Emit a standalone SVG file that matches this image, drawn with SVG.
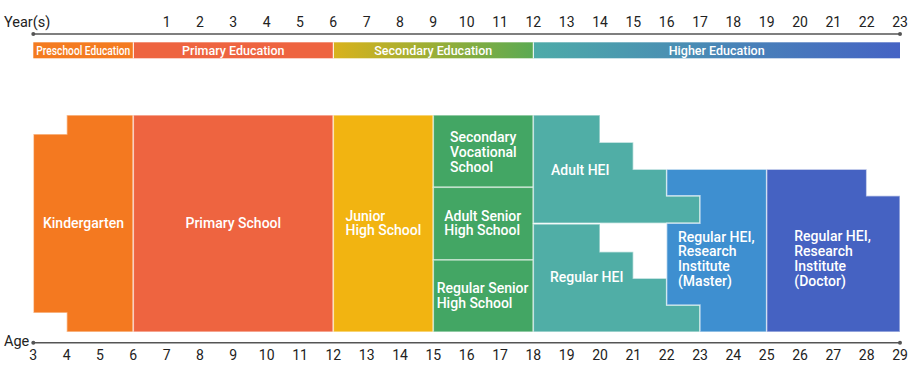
<svg xmlns="http://www.w3.org/2000/svg" width="910" height="374" viewBox="0 0 910 374">
<defs>
<linearGradient id="gSec" x1="0" y1="0" x2="1" y2="0"><stop offset="0" stop-color="#D9B21C"/><stop offset="1" stop-color="#5BAA52"/></linearGradient>
<linearGradient id="gHigh" x1="0" y1="0" x2="1" y2="0"><stop offset="0" stop-color="#4DABA8"/><stop offset="1" stop-color="#4563C4"/></linearGradient>
<style>
.ax{font-family:Roboto,"Liberation Sans",sans-serif;font-size:14px;fill:#222;text-anchor:middle}
.axl{font-family:Roboto,"Liberation Sans",sans-serif;font-size:14.5px;fill:#222}
.bt{font-family:Roboto,"Liberation Sans",sans-serif;font-size:12.5px;font-weight:500;fill:#fff;text-anchor:middle}
.lb{font-family:Roboto,"Liberation Sans",sans-serif;font-size:14px;font-weight:500;fill:#fff}
.c{text-anchor:middle}
.blk{stroke:#fff;stroke-opacity:0.55;stroke-width:1.5}
.line{stroke:#555;stroke-width:1.5}
</style>
</defs>
<g id="year-axis">
<text class="axl" x="4" y="27">Year(s)</text>
<line class="line" x1="33.3" y1="34" x2="900" y2="34"/>
<circle cx="33.3" cy="34" r="2" fill="#555"/>
<circle cx="900" cy="34" r="2" fill="#555"/>
<text class="ax" x="166.7" y="27">1</text>
<text class="ax" x="200" y="27">2</text>
<text class="ax" x="233.3" y="27">3</text>
<text class="ax" x="266.7" y="27">4</text>
<text class="ax" x="300" y="27">5</text>
<text class="ax" x="333.3" y="27">6</text>
<text class="ax" x="366.7" y="27">7</text>
<text class="ax" x="400" y="27">8</text>
<text class="ax" x="433.3" y="27">9</text>
<text class="ax" x="466.7" y="27">10</text>
<text class="ax" x="500" y="27">11</text>
<text class="ax" x="533.3" y="27">12</text>
<text class="ax" x="566.7" y="27">13</text>
<text class="ax" x="600" y="27">14</text>
<text class="ax" x="633.3" y="27">15</text>
<text class="ax" x="666.7" y="27">16</text>
<text class="ax" x="700" y="27">17</text>
<text class="ax" x="733.3" y="27">18</text>
<text class="ax" x="766.7" y="27">19</text>
<text class="ax" x="800" y="27">20</text>
<text class="ax" x="833.3" y="27">21</text>
<text class="ax" x="866.7" y="27">22</text>
<text class="ax" x="900" y="27">23</text>
</g>
<g id="stage-bar">
<rect x="33.3" y="42.3" width="100" height="16" fill="#F47B20"/>
<rect x="133.3" y="42.3" width="200" height="16" fill="#EE6440"/>
<rect x="333.3" y="42.3" width="200" height="16" fill="url(#gSec)"/>
<rect x="533.3" y="42.3" width="366.7" height="16" fill="url(#gHigh)"/>
<line x1="133.3" y1="42.3" x2="133.3" y2="58.3" stroke="#fff" stroke-width="1"/>
<line x1="333.3" y1="42.3" x2="333.3" y2="58.3" stroke="#fff" stroke-width="1"/>
<line x1="533.3" y1="42.3" x2="533.3" y2="58.3" stroke="#fff" stroke-width="1"/>
<text class="bt" x="83.3" y="54.6" font-size="12" textLength="94" lengthAdjust="spacingAndGlyphs">Preschool Education</text>
<text class="bt" x="233.3" y="54.8">Primary Education</text>
<text class="bt" x="433.3" y="54.8">Secondary Education</text>
<text class="bt" x="716.7" y="54.8">Higher Education</text>
</g>
<g id="kindergarten">
<path class="blk" d="M66.67,115 H133.33 V332 H66.67 V313 H33.33 V134 H66.67 Z" fill="#F47920"/>
<text class="lb c" x="83.5" y="228">Kindergarten</text>
</g>
<g id="primary-school">
<rect class="blk" x="133.33" y="115" width="200" height="217" fill="#EE6440"/>
<text class="lb c" x="233.3" y="228">Primary School</text>
</g>
<g id="junior-high">
<rect class="blk" x="333.33" y="115" width="100" height="217" fill="#F2B411"/>
<text class="lb" x="345.5" y="220.5">Junior</text>
<text class="lb" x="345.5" y="235">High School</text>
</g>
<g id="secondary-vocational">
<rect class="blk" x="433.33" y="115" width="100" height="72.3" fill="#43A664"/>
<text class="lb" x="450" y="141.5">Secondary</text>
<text class="lb" x="450" y="156.5">Vocational</text>
<text class="lb" x="450" y="171.5">School</text>
</g>
<g id="adult-senior-high">
<rect class="blk" x="433.33" y="187.3" width="100" height="72.7" fill="#43A664"/>
<text class="lb" x="444.3" y="220.5">Adult Senior</text>
<text class="lb" x="444.3" y="235">High School</text>
</g>
<g id="regular-senior-high">
<rect class="blk" x="433.33" y="260" width="100" height="72" fill="#43A664"/>
<text class="lb" x="436.7" y="293">Regular Senior</text>
<text class="lb" x="436.7" y="308">High School</text>
</g>
<g id="adult-hei">
<path class="blk" d="M533.33,115 H600 V142.3 H633.33 V169.3 H666.67 V195.7 H700 V223.3 H533.33 Z" fill="#50AEA6"/>
<text class="lb" x="551" y="174.5">Adult HEI</text>
</g>
<g id="regular-hei">
<path class="blk" d="M533.33,224 H600 V251.7 H633.33 V278.3 H666.67 V305 H700 V332 H533.33 Z" fill="#50AEA6"/>
<text class="lb" x="550" y="282">Regular HEI</text>
</g>
<g id="master">
<path class="blk" d="M666.67,169.3 H766.67 V332 H700 V305 H666.67 V223.3 H700 V195.7 H666.67 Z" fill="#3E8FD0"/>
<text class="lb" x="678" y="241.5">Regular HEI,</text>
<text class="lb" x="678" y="256.3">Research</text>
<text class="lb" x="678" y="271">Institute</text>
<text class="lb" x="678" y="286">(Master)</text>
</g>
<g id="doctor">
<path class="blk" d="M766.67,169.3 H866.67 V195.7 H900 V332 H766.67 Z" fill="#4562C2"/>
<text class="lb" x="794.3" y="241">Regular HEI,</text>
<text class="lb" x="794.3" y="256">Research</text>
<text class="lb" x="794.3" y="271">Institute</text>
<text class="lb" x="794.3" y="286">(Doctor)</text>
</g>
<g id="age-axis">
<text class="axl" x="4" y="346">Age</text>
<line class="line" x1="33.3" y1="342.7" x2="900" y2="342.7"/>
<circle cx="33.3" cy="342.7" r="2" fill="#555"/>
<circle cx="900" cy="342.7" r="2" fill="#555"/>
<text class="ax" x="33.3" y="360">3</text>
<text class="ax" x="66.7" y="360">4</text>
<text class="ax" x="100" y="360">5</text>
<text class="ax" x="133.3" y="360">6</text>
<text class="ax" x="166.7" y="360">7</text>
<text class="ax" x="200" y="360">8</text>
<text class="ax" x="233.3" y="360">9</text>
<text class="ax" x="266.7" y="360">10</text>
<text class="ax" x="300" y="360">11</text>
<text class="ax" x="333.3" y="360">12</text>
<text class="ax" x="366.7" y="360">13</text>
<text class="ax" x="400" y="360">14</text>
<text class="ax" x="433.3" y="360">15</text>
<text class="ax" x="466.7" y="360">16</text>
<text class="ax" x="500" y="360">17</text>
<text class="ax" x="533.3" y="360">18</text>
<text class="ax" x="566.7" y="360">19</text>
<text class="ax" x="600" y="360">20</text>
<text class="ax" x="633.3" y="360">21</text>
<text class="ax" x="666.7" y="360">22</text>
<text class="ax" x="700" y="360">23</text>
<text class="ax" x="733.3" y="360">24</text>
<text class="ax" x="766.7" y="360">25</text>
<text class="ax" x="800" y="360">26</text>
<text class="ax" x="833.3" y="360">27</text>
<text class="ax" x="866.7" y="360">28</text>
<text class="ax" x="900" y="360">29</text>
</g>
<g id="connectors"></g>
</svg>
